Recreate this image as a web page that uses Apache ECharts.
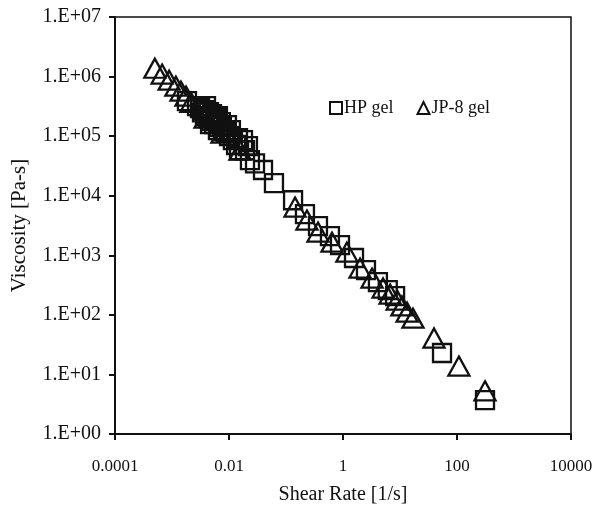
<!DOCTYPE html>
<html>
<head>
<meta charset="utf-8">
<script src="https://cdn.jsdelivr.net/npm/echarts@6/dist/echarts.min.js"></script>
<style>
  html, body { margin: 0; padding: 0; background: #fff; }
  #chart { width: 598px; height: 505px; }
</style>
</head>
<body>
<div id="chart"></div>
<script>
// HP gel, shear rate [1/s] and viscosity [Pa-s]
var hpRate = [0.00183, 0.00275, 0.0031, 0.00336, 0.00364, 0.0038, 0.00395, 0.0043, 0.00445, 0.00465,
  0.0048, 0.00503, 0.0055, 0.00568, 0.0059, 0.0064, 0.0064, 0.0067, 0.0072, 0.0075,
  0.0082, 0.00885, 0.0092, 0.0100, 0.0108, 0.0117, 0.0133, 0.0144, 0.0150, 0.0176,
  0.0191, 0.0215, 0.0233, 0.0286, 0.0395,
  0.0615, 0.133, 0.215, 0.364, 0.59, 0.886, 1.56, 2.53, 4.1, 6.1, 8.2, 54.6, 310]
var hpVisc = [387000, 320000, 295000, 250000, 273000, 217000, 319000, 200000, 253000, 159000,
  179000, 234000, 159000, 185000, 200000, 217000, 126000, 142000, 172000, 147000,
  121000, 117000, 153000, 100000, 126000, 86000, 71000, 92500, 58000, 86000,
  58000, 68000, 39500, 35000, 27000,
  16300, 8400, 4900, 3090, 2100, 1480, 900, 565, 355, 260, 207, 22.9, 3.7]

// JP-8 gel
var jpRate = [0.0005, 0.00067, 0.00089, 0.00117, 0.00144, 0.00176, 0.00215, 0.0038, 0.0075, 0.0156,
  0.144, 0.233, 0.364, 0.641, 1.17, 1.99, 3.23, 5.04, 6.7, 8.9, 10.8, 13.3, 16.9, 39.5, 108, 310]
var jpVisc = [1380000, 1100000, 870000, 690000, 570000, 470000, 370000, 200000, 112000, 58000,
  6440, 3900, 2450, 1660, 1130, 610, 414, 282, 223, 177, 141, 111, 88, 40.8, 13.8, 5.3]

function pairs (xs, ys) {
  return xs.map(function (x, i) { return [x, ys[i]] })
}

var serif = 'Liberation Serif'
var ink = '#111'

var myChart = echarts.init(document.getElementById('chart'), null, { renderer: 'canvas' })

var markStyle = {
  color: 'rgba(0,0,0,0)',
  borderColor: ink,
  borderWidth: 2.3,
  opacity: 1
}

myChart.setOption({
  animation: false,
  backgroundColor: '#fff',
  grid: {
    left: 115, right: 27, top: 17, bottom: 71,
    outerBoundsMode: 'none',
    containLabel: false,
    show: true,
    borderColor: ink,
    borderWidth: 1.5
  },
  legend: {
    left: 324,
    top: 94,
    itemWidth: 12,
    itemHeight: 12,
    itemGap: 23,
    textStyle: { fontFamily: serif, fontSize: 18, color: ink, padding: [0, 0, 0, -3] },
    data: ['HP gel', 'JP-8 gel']
  },
  xAxis: {
    type: 'log',
    logBase: 100,
    min: 0.0001,
    max: 10000,
    name: 'Shear Rate [1/s]',
    nameLocation: 'middle',
    nameGap: 51,
    nameTextStyle: { fontFamily: serif, fontSize: 20, color: ink },
    axisLine: { lineStyle: { color: ink, width: 2 } },
    axisTick: { length: 6, lineStyle: { color: ink, width: 2 } },
    axisLabel: {
      margin: 24,
      fontFamily: serif, fontSize: 17, color: ink,
      formatter: function (v) {
        var e = Math.round(Math.log10(v))
        return e < 0 ? Math.pow(10, e).toFixed(-e) : String(Math.pow(10, e))
      }
    },
    splitLine: { show: false },
    minorTick: { show: false }
  },
  yAxis: {
    type: 'log',
    logBase: 10,
    min: 1,
    max: 10000000,
    name: 'Viscosity [Pa-s]',
    nameLocation: 'middle',
    nameGap: 85,
    nameTextStyle: { fontFamily: serif, fontSize: 21, color: ink },
    axisLine: { lineStyle: { color: ink, width: 2 } },
    axisTick: { length: 6, lineStyle: { color: ink, width: 2 } },
    axisLabel: {
      margin: 14,
      fontFamily: serif, fontSize: 20, color: ink,
      formatter: function (v) {
        var e = Math.round(Math.log10(v))
        return '1.E+' + (e < 10 ? '0' : '') + e
      }
    },
    splitLine: { show: false }
  },
  series: [
    {
      name: 'HP gel',
      type: 'scatter',
      symbol: 'rect',
      symbolSize: 18,
      itemStyle: markStyle,
      data: pairs(hpRate, hpVisc)
    },
    {
      name: 'JP-8 gel',
      type: 'scatter',
      symbol: 'triangle',
      symbolSize: [21, 19],
      itemStyle: markStyle,
      data: pairs(jpRate, jpVisc)
    }
  ]
})
</script>
</body>
</html>
